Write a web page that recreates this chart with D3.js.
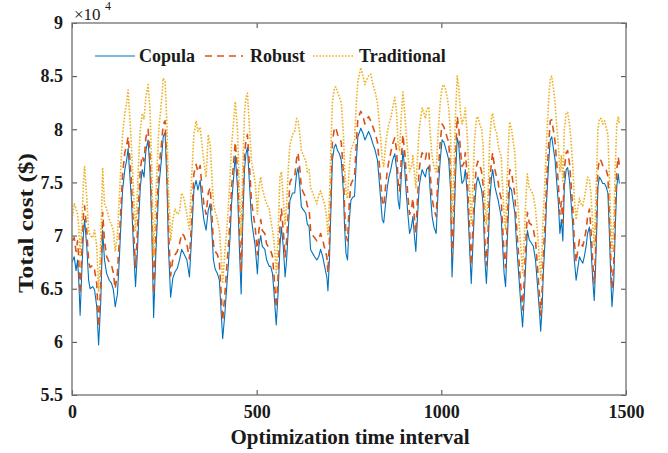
<!DOCTYPE html>
<html lang="en">
<head>
<meta charset="UTF-8">
<script src="https://d3js.org/d3.v7.min.js"></script>
<title>Total cost</title>
<style>
  body { margin: 0; background: #fff; }
  text { font-family: "Liberation Serif", "Times New Roman", serif; font-weight: bold; fill: #1a1a1a; }
</style>
</head>
<body>
<div id="chart"></div>
<script>
// optimization time interval (shared by all three series)
const interval = [
  0,6,11,15,18,22,27,31,34,40,45,49,56,61,67,72,78,83,88,94,101,107,112,117,123,128,133,137,143,148,152,155,161,166,172,176,181,185,190,195,200,206,211,216,221,227,235,242,247,252,
  257,261,267,273,279,285,291,297,303,311,318,324,330,336,341,347,352,357,363,369,374,378,383,388,394,399,404,408,414,419,423,428,432,437,442,448,453,458,462,467,471,475,480,486,491,496,502,
  506,511,515,522,527,534,538,543,547,553,558,563,567,572,577,581,586,590,597,603,608,612,617,621,627,633,637,642,646,652,657,663,668,673,679,684,690,693,697,701,705,710,714,719,724,729,735,738,742,746,
  751,755,760,765,770,774,782,788,793,797,803,809,815,821,827,831,836,840,844,849,854,858,863,868,874,879,883,887,892,896,901,905,910,914,919,923,928,931,935,940,944,948,953,957,960,966,969,975,980,986,991,997,1002,
  1007,1011,1016,1020,1025,1027,1029,1034,1038,1043,1047,1052,1056,1061,1065,1070,1074,1078,1081,1086,1090,1095,1099,1104,1109,1113,1118,1122,1127,1131,1136,1139,1145,1149,1154,1157,1162,1166,1170,1174,1178,1183,1185,1190,1194,1199,1203,1208,1213,1217,1220,1224,1229,1233,1238,1244,1249,1255,1260,1266,1269,1273,
  1276,1281,1285,1291,1295,1299,1303,1308,1312,1317,1321,1325,1329,1333,1338,1342,1347,1351,1356,1360,1365,1369,1374,1378,1383,1387,1392,1396,1401,1405,1410,1414,1417,1421,1424,1428,1433,1437,1442,1446,1451,1455,1459,1462,1467,1471,1475,1479,1482
];

// total cost, x10^4 $
const copula = [
  6.75,6.80,6.67,6.77,6.60,6.25,6.70,7.02,7.15,6.90,6.58,6.50,6.52,6.49,6.33,5.97,6.39,7.05,6.77,6.64,6.58,6.55,6.49,6.33,6.45,6.77,7.15,7.43,7.62,7.71,7.82,7.65,7.33,6.93,6.52,6.77,7.18,7.46,7.62,7.55,7.80,7.90,7.62,7.08,6.23,6.83,7.46,7.71,7.93,7.97,
  7.50,6.90,6.42,6.60,6.66,6.69,6.77,6.87,6.83,6.77,6.61,7.00,7.43,7.52,7.43,7.52,7.30,7.15,7.05,7.24,7.30,7.08,6.77,6.68,6.64,6.58,6.27,6.03,6.27,6.52,6.71,6.99,7.30,7.52,7.75,7.46,6.90,6.45,7.08,7.62,7.77,7.83,7.52,7.15,7.02,6.90,6.64,
  6.90,7.00,6.90,6.87,6.77,6.71,6.71,6.64,6.46,6.16,6.46,6.90,7.08,6.90,6.61,6.77,7.08,7.33,7.40,7.40,7.58,7.64,7.46,7.27,7.24,7.21,7.11,7.08,6.87,6.83,6.80,6.77,6.80,6.87,6.80,6.71,6.61,6.48,6.77,7.24,7.71,7.83,7.86,7.80,7.77,7.71,7.40,7.08,6.83,6.77,
  7.15,7.33,7.36,7.37,7.71,7.93,8.01,7.96,7.90,7.93,7.98,7.93,7.86,7.80,7.71,7.55,7.33,7.15,7.12,7.30,7.46,7.55,7.62,7.71,7.77,7.62,7.33,7.25,7.58,7.80,7.62,7.40,7.18,7.02,7.08,7.18,6.96,6.85,7.15,7.46,7.55,7.62,7.58,7.55,7.62,7.65,7.46,7.18,7.08,7.02,7.40,7.71,7.90,
  7.88,7.83,7.77,7.71,7.43,6.96,6.61,7.05,7.52,7.92,7.86,7.62,7.49,7.52,7.62,7.40,7.08,6.77,6.55,6.96,7.27,7.49,7.55,7.49,7.43,7.30,6.77,6.55,6.90,7.33,7.55,7.62,7.46,7.40,7.33,7.27,7.18,6.90,6.64,6.52,6.90,7.33,7.46,7.43,7.33,7.21,6.96,6.71,6.46,6.27,6.14,6.39,6.77,7.05,6.96,6.93,6.90,6.77,6.55,6.27,6.10,6.33,
  6.64,6.96,7.33,7.71,7.90,7.93,7.83,7.71,7.52,7.30,7.02,7.15,6.95,7.46,7.62,7.64,7.52,7.33,7.08,6.77,6.58,6.68,6.80,6.77,6.74,6.80,6.90,7.02,7.08,6.90,6.58,6.39,6.64,7.08,7.46,7.55,7.52,7.49,7.49,7.46,7.40,7.02,6.58,6.33,6.58,7.08,7.46,7.58,7.49
];
const robust = [
  6.95,6.98,6.85,6.95,6.80,6.45,6.88,7.20,7.28,7.05,6.75,6.70,6.72,6.68,6.55,6.14,6.55,7.22,6.95,6.80,6.75,6.72,6.65,6.50,6.65,6.95,7.30,7.58,7.78,7.85,7.93,7.80,7.50,7.10,6.70,6.95,7.35,7.62,7.75,7.70,7.92,8.00,7.78,7.25,6.45,7.00,7.62,7.85,8.05,8.08,
  7.65,7.08,6.62,6.78,6.82,6.85,6.92,7.02,7.00,6.92,6.78,7.15,7.58,7.67,7.60,7.66,7.45,7.30,7.20,7.40,7.45,7.25,6.92,6.85,6.82,6.75,6.45,6.20,6.45,6.70,6.88,7.15,7.45,7.66,7.88,7.62,7.08,6.65,7.25,7.76,7.90,7.95,7.68,7.32,7.20,7.08,6.82,
  7.05,7.15,7.05,7.02,6.92,6.88,6.86,6.80,6.62,6.32,6.62,7.08,7.25,7.05,6.80,6.95,7.25,7.50,7.55,7.56,7.72,7.78,7.62,7.45,7.40,7.36,7.28,7.25,7.05,7.00,6.98,6.95,6.96,7.02,6.96,6.88,6.80,6.65,6.95,7.40,7.88,8.00,8.02,7.95,7.92,7.88,7.58,7.25,7.00,6.95,
  7.32,7.48,7.52,7.55,7.88,8.10,8.17,8.12,8.05,8.08,8.12,8.08,8.02,7.96,7.88,7.72,7.50,7.32,7.28,7.46,7.62,7.70,7.78,7.86,7.92,7.80,7.50,7.42,7.75,7.95,7.78,7.58,7.35,7.20,7.25,7.35,7.12,7.02,7.32,7.62,7.72,7.78,7.75,7.72,7.78,7.80,7.62,7.35,7.25,7.18,7.56,7.88,8.05,
  8.02,7.98,7.92,7.88,7.60,7.15,6.80,7.22,7.70,8.12,8.02,7.80,7.65,7.68,7.78,7.56,7.25,6.95,6.72,7.12,7.45,7.65,7.70,7.66,7.60,7.48,6.95,6.72,7.08,7.50,7.70,7.78,7.62,7.56,7.50,7.42,7.35,7.08,6.82,6.70,7.08,7.50,7.62,7.60,7.50,7.38,7.12,6.88,6.62,6.45,6.30,6.55,6.95,7.22,7.12,7.10,7.06,6.95,6.72,6.42,6.25,6.50,
  6.80,7.12,7.50,7.88,8.08,8.09,8.00,7.88,7.70,7.48,7.20,7.32,7.12,7.62,7.78,7.80,7.68,7.50,7.25,6.95,6.75,6.85,6.96,6.92,6.90,6.96,7.05,7.18,7.25,7.06,6.75,6.55,6.80,7.25,7.62,7.72,7.70,7.66,7.65,7.62,7.56,7.20,6.75,6.50,6.75,7.25,7.62,7.74,7.66
];
const traditional = [
  7.15,7.30,7.25,7.20,7.10,6.80,7.15,7.50,7.65,7.35,7.05,7.00,6.98,7.05,6.90,6.47,6.95,7.63,7.30,7.25,7.15,7.10,7.05,6.85,7.00,7.35,7.70,7.95,8.15,8.25,8.37,8.20,7.85,7.45,7.05,7.30,7.75,8.00,8.15,8.10,8.30,8.42,8.20,7.65,6.80,7.35,8.00,8.25,8.48,8.45,
  8.05,7.45,6.95,7.15,7.25,7.20,7.22,7.40,7.35,7.20,7.05,7.55,7.95,8.08,7.98,8.02,7.85,7.70,7.55,7.95,7.85,7.60,7.30,7.22,7.15,7.05,6.80,6.55,6.85,7.05,7.25,7.55,7.85,8.05,8.26,8.00,7.45,7.00,7.60,8.15,8.30,8.34,8.05,7.70,7.60,7.50,7.20,
  7.45,7.55,7.45,7.35,7.30,7.25,7.15,7.05,6.95,6.65,7.00,7.55,7.60,7.35,7.10,7.30,7.65,7.85,7.95,7.98,8.10,8.08,7.95,7.80,7.75,7.70,7.60,7.62,7.45,7.40,7.35,7.30,7.38,7.42,7.35,7.30,7.15,7.00,7.35,7.85,8.25,8.38,8.40,8.35,8.30,8.25,7.95,7.65,7.40,7.35,
  7.65,7.80,7.85,7.90,8.25,8.45,8.58,8.50,8.42,8.46,8.50,8.52,8.42,8.35,8.25,8.10,7.90,7.72,7.65,7.85,7.98,8.05,8.10,8.20,8.30,8.15,7.85,7.80,8.15,8.35,8.15,7.95,7.75,7.60,7.65,7.75,7.55,7.45,7.70,8.00,8.10,8.20,8.15,8.10,8.18,8.21,8.00,7.75,7.65,7.60,7.95,8.25,8.40,
  8.42,8.38,8.30,8.20,7.95,7.50,7.15,7.60,8.10,8.50,8.40,8.15,8.05,8.10,8.20,7.95,7.65,7.35,7.10,7.55,7.90,8.10,8.12,8.05,8.00,7.85,7.30,7.10,7.45,7.90,8.12,8.15,8.00,7.98,7.85,7.80,7.75,7.45,7.20,7.05,7.50,7.95,8.07,8.00,7.90,7.78,7.50,7.25,7.00,6.80,6.65,6.95,7.35,7.58,7.45,7.42,7.38,7.25,7.05,6.75,6.60,6.90,
  7.20,7.55,7.90,8.30,8.48,8.50,8.40,8.25,8.05,7.85,7.60,7.75,7.50,8.00,8.15,8.16,8.05,7.90,7.65,7.35,7.15,7.25,7.35,7.30,7.28,7.35,7.45,7.55,7.52,7.40,7.10,6.90,7.20,7.65,8.00,8.10,8.10,8.05,8.08,8.02,7.95,7.55,7.10,6.85,7.15,7.65,8.05,8.12,8.05
];

const seriesNames = ["Copula", "Robust", "Traditional"];
const xTicks = [0, 500, 1000, 1500];
const yTicks = [5.5, 6, 6.5, 7, 7.5, 8, 8.5, 9];

const width = 668;
const height = 453;
const plotLeft = 72, plotRight = 626, plotTop = 23, plotBottom = 395;

const svg = d3.select("#chart")
  .append("svg")
  .attr("width", width)
  .attr("height", height);

const x = d3.scaleLinear().domain([0, 1500]).range([plotLeft, plotRight]);
const y = d3.scaleLinear().domain([5.5, 9]).range([plotBottom, plotTop]);

// line styles (MATLAB default colours)
const styles = [
  { values: copula, color: "#0072BD", width: 1.1, dash: null },
  { values: robust, color: "#D95319", width: 1.6, dash: "7,5" },
  { values: traditional, color: "#EDB120", width: 1.6, dash: "1.6,1.6" }
];

const line = d3.line()
  .x((d, i) => x(interval[i]))
  .y(d => y(d));

styles.forEach(s => {
  svg.append("path")
    .datum(s.values)
    .attr("fill", "none")
    .attr("stroke", s.color)
    .attr("stroke-width", s.width)
    .attr("stroke-dasharray", s.dash)
    .attr("stroke-linejoin", "round")
    .attr("d", line);
});

// axes with inward ticks on all four sides
const axisColor = "#7a7a7a";
function styleAxis(g) {
  g.select(".domain").remove();
  g.selectAll(".tick line").attr("stroke", "#444").attr("stroke-width", 1);
  g.selectAll(".tick text")
    .attr("fill", "#1a1a1a")
    .style("font-size", "18px")
    .style("font-family", "'Liberation Serif', 'Times New Roman', serif")
    .style("font-weight", "bold");
}

svg.append("g")
  .attr("transform", `translate(0,${plotBottom})`)
  .call(d3.axisBottom(x).tickValues(xTicks).tickSizeInner(-5).tickSizeOuter(0).tickPadding(10).tickFormat(d3.format("d")))
  .call(styleAxis);

svg.append("g")
  .attr("transform", `translate(0,${plotTop})`)
  .call(d3.axisTop(x).tickValues(xTicks).tickSizeInner(-5).tickSizeOuter(0).tickFormat(""))
  .call(styleAxis);

svg.append("g")
  .attr("transform", `translate(${plotLeft},0)`)
  .call(d3.axisLeft(y).tickValues(yTicks).tickSizeInner(-5).tickSizeOuter(0).tickPadding(9).tickFormat(d => String(d)))
  .call(styleAxis);

svg.append("g")
  .attr("transform", `translate(${plotRight},0)`)
  .call(d3.axisRight(y).tickValues(yTicks).tickSizeInner(-5).tickSizeOuter(0).tickFormat(""))
  .call(styleAxis);

svg.append("rect")
  .attr("x", plotLeft)
  .attr("y", plotTop)
  .attr("width", plotRight - plotLeft)
  .attr("height", plotBottom - plotTop)
  .attr("fill", "none")
  .attr("stroke", axisColor)
  .attr("stroke-width", 1.4);

// exponent label
svg.append("text")
  .attr("x", 74)
  .attr("y", 19.5)
  .style("font-size", "17px")
  .style("font-weight", "normal")
  .text("×10");
svg.append("text")
  .attr("x", 105)
  .attr("y", 10)
  .style("font-size", "12px")
  .style("font-weight", "normal")
  .text("4");

// axis titles
svg.append("text")
  .attr("x", (plotLeft + plotRight) / 2 + 1)
  .attr("y", 444)
  .attr("text-anchor", "middle")
  .style("font-size", "21px")
  .text("Optimization time interval");

svg.append("text")
  .attr("transform", "translate(33,223) rotate(-90)")
  .attr("text-anchor", "middle")
  .attr("textLength", 140)
  .attr("lengthAdjust", "spacingAndGlyphs")
  .style("font-size", "21px")
  .text("Total cost ($)");

// legend
const legendPos = [
  { x1: 95, x2: 135, tx: 139 },
  { x1: 205, x2: 243, tx: 250 },
  { x1: 313, x2: 353, tx: 359 }
];
styles.forEach((s, i) => {
  const p = legendPos[i];
  svg.append("line")
    .attr("x1", p.x1).attr("x2", p.x2)
    .attr("y1", 56).attr("y2", 56)
    .attr("stroke", s.color)
    .attr("stroke-width", s.width)
    .attr("stroke-dasharray", s.dash);
  svg.append("text")
    .attr("x", p.tx)
    .attr("y", 62)
    .style("font-size", "18px")
    .text(seriesNames[i]);
});
</script>
</body>
</html>
